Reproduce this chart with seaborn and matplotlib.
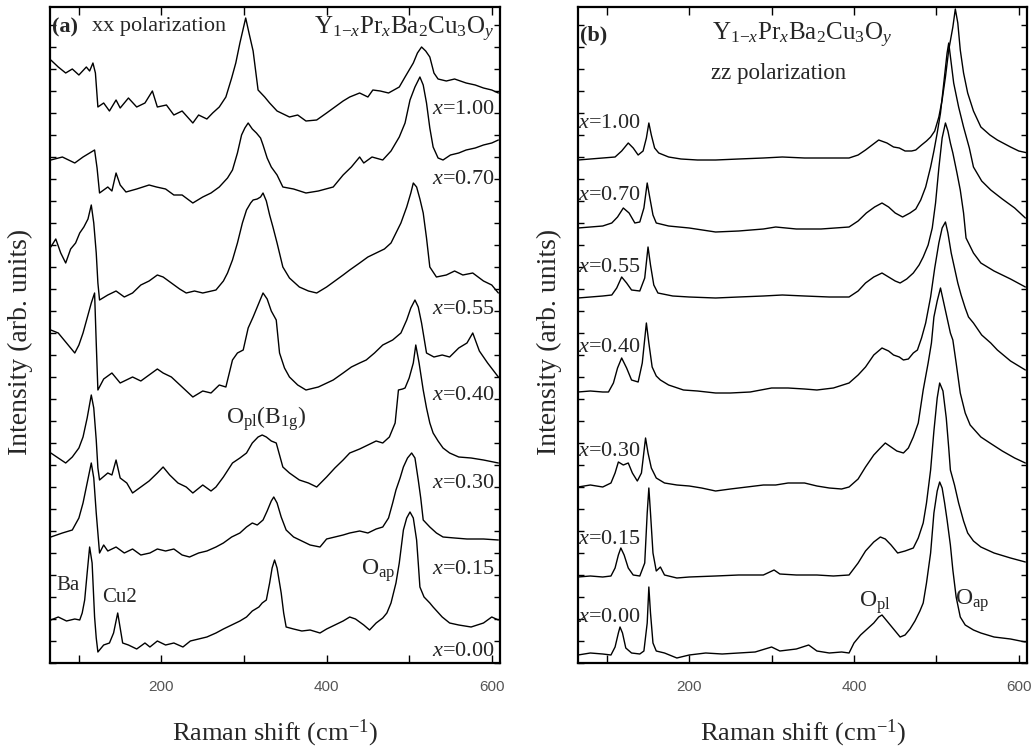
import matplotlib
matplotlib.use("Agg")
import matplotlib.pyplot as plt
from matplotlib.ticker import MultipleLocator, FixedLocator
import seaborn as sns
import pandas as pd

sns.set_style("ticks")
plt.rcParams['font.family'] = ['Liberation Serif', 'DejaVu Serif']
plt.rcParams['mathtext.fontset'] = 'custom'
plt.rcParams['mathtext.rm'] = 'Liberation Serif'
plt.rcParams['mathtext.it'] = 'Liberation Serif:italic'
plt.rcParams['mathtext.bf'] = 'Liberation Serif:bold'

# ---------------- Panel (a): xx polarization (offset spectra, arb. units) ----------------
a_x100 = [66, 75, 84, 92, 100, 109, 113, 117, 120, 123, 130, 137, 145, 150, 160, 170, 180, 189, 195, 206, 215, 225, 238, 245, 255, 262, 270, 278, 285, 290, 295, 302, 306, 311, 317, 325, 331, 340, 355, 365, 375, 388, 400, 410, 420, 428, 440, 450, 456, 465, 475, 488, 495, 505, 510, 515, 520, 525, 530, 535, 545, 555, 569, 580, 590, 600, 608]
a_y100 = [603, 596, 590, 594, 588, 596, 592, 600, 590, 556, 560, 552, 563, 555, 565, 556, 560, 572, 556, 558, 548, 552, 540, 548, 544, 550, 556, 566, 585, 600, 620, 645, 630, 612, 573, 566, 560, 552, 546, 548, 542, 543, 550, 556, 562, 566, 570, 566, 573, 572, 570, 576, 586, 600, 610, 616, 612, 606, 590, 584, 582, 584, 580, 578, 575, 573, 570]

a_x070 = [66, 80, 95, 105, 113, 119, 122, 125, 135, 140, 145, 150, 157, 170, 185, 194, 205, 215, 225, 238, 250, 260, 270, 280, 286, 292, 297, 301, 305, 310, 315, 320, 323, 328, 333, 340, 347, 360, 375, 390, 408, 420, 430, 440, 445, 455, 468, 478, 488, 495, 501, 507, 513, 517, 521, 525, 529, 535, 541, 550, 560, 569, 580, 590, 600, 608]
a_y070 = [503, 506, 500, 506, 510, 513, 495, 470, 476, 472, 490, 478, 471, 474, 478, 476, 474, 468, 468, 460, 466, 470, 476, 485, 493, 510, 528, 535, 540, 534, 530, 525, 518, 505, 496, 488, 476, 474, 470, 472, 476, 488, 496, 506, 500, 506, 503, 512, 526, 540, 563, 576, 586, 578, 560, 535, 516, 505, 503, 508, 510, 513, 515, 518, 520, 523]

a_x055 = [66, 72, 78, 84, 90, 96, 101, 106, 111, 115, 118, 121, 123, 125, 135, 145, 155, 165, 175, 185, 195, 202, 212, 222, 230, 240, 250, 266, 275, 280, 286, 292, 298, 303, 308, 311, 316, 320, 323, 327, 331, 335, 340, 347, 355, 367, 378, 388, 400, 410, 420, 428, 440, 450, 460, 470, 478, 484, 490, 497, 502, 505, 509, 513, 517, 521, 525, 533, 545, 555, 565, 577, 590, 600, 608]
a_y055 = [416, 424, 410, 400, 414, 420, 430, 436, 444, 458, 440, 410, 380, 363, 368, 372, 366, 370, 378, 382, 388, 386, 380, 374, 370, 372, 370, 373, 382, 390, 403, 420, 440, 453, 460, 463, 464, 466, 470, 462, 448, 436, 420, 396, 385, 376, 372, 370, 376, 382, 388, 393, 400, 406, 410, 414, 420, 430, 440, 456, 470, 480, 476, 464, 450, 425, 396, 386, 388, 392, 388, 390, 382, 378, 370]

a_x040 = [66, 75, 85, 95, 100, 105, 110, 115, 119, 121, 123, 130, 140, 150, 165, 175, 185, 195, 202, 212, 225, 238, 250, 260, 270, 278, 286, 292, 299, 305, 311, 317, 323, 328, 333, 339, 343, 349, 355, 365, 375, 390, 408, 420, 430, 440, 448, 458, 468, 480, 490, 497, 502, 507, 511, 515, 517, 521, 530, 540, 549, 560, 570, 577, 585, 595, 608]
a_y040 = [333, 330, 320, 310, 318, 330, 345, 360, 370, 320, 273, 284, 290, 280, 286, 282, 288, 294, 290, 286, 276, 266, 272, 270, 278, 276, 303, 310, 313, 335, 346, 358, 370, 364, 352, 343, 310, 295, 286, 278, 273, 276, 283, 290, 296, 300, 303, 310, 318, 323, 330, 343, 355, 363, 356, 340, 330, 310, 306, 308, 306, 315, 320, 330, 312, 300, 286]

a_x030 = [66, 75, 84, 92, 100, 105, 110, 115, 118, 121, 123, 125, 135, 140, 145, 150, 158, 165, 175, 185, 195, 202, 210, 220, 230, 238, 250, 260, 266, 275, 286, 295, 303, 310, 317, 322, 327, 333, 339, 343, 347, 355, 367, 378, 388, 400, 410, 420, 428, 440, 450, 460, 468, 476, 483, 487, 492, 495, 500, 505, 508, 512, 517, 521, 525, 529, 535, 541, 549, 560, 575, 590, 608]
a_y030 = [210, 205, 200, 206, 215, 226, 245, 268, 255, 223, 195, 183, 190, 188, 203, 185, 180, 170, 176, 182, 190, 196, 188, 180, 176, 170, 178, 172, 176, 186, 200, 205, 210, 220, 226, 228, 226, 222, 220, 208, 196, 190, 183, 180, 176, 186, 195, 203, 210, 214, 218, 222, 220, 226, 240, 273, 274, 275, 285, 300, 318, 300, 273, 255, 240, 230, 222, 215, 210, 206, 205, 203, 200]

a_x015 = [66, 80, 92, 100, 105, 110, 115, 118, 121, 125, 130, 135, 145, 155, 165, 175, 186, 195, 205, 215, 225, 234, 245, 255, 266, 275, 285, 295, 303, 310, 316, 323, 328, 333, 336, 340, 345, 351, 360, 370, 380, 392, 400, 410, 420, 428, 440, 450, 460, 468, 475, 480, 484, 489, 493, 498, 503, 507, 511, 514, 517, 525, 533, 541, 555, 570, 590, 608]
a_y015 = [126, 130, 133, 145, 160, 180, 200, 185, 150, 110, 118, 112, 116, 110, 114, 108, 110, 114, 112, 114, 108, 106, 110, 112, 116, 120, 126, 130, 136, 140, 138, 143, 152, 162, 166, 160, 146, 133, 126, 122, 118, 116, 124, 126, 128, 130, 132, 130, 134, 136, 145, 160, 173, 185, 196, 205, 210, 205, 183, 165, 143, 136, 130, 126, 125, 124, 124, 123]

a_x000 = [66, 75, 85, 95, 101, 104, 107, 110, 113, 116, 119, 121, 123, 130, 137, 142, 147, 150, 153, 160, 170, 180, 186, 195, 205, 215, 226, 235, 245, 255, 266, 275, 285, 295, 303, 310, 318, 322, 327, 331, 334, 337, 340, 343, 345, 348, 351, 360, 370, 380, 392, 400, 410, 420, 428, 435, 445, 452, 460, 468, 473, 478, 484, 488, 493, 497, 501, 505, 509, 511, 513, 518, 525, 529, 540, 549, 560, 575, 590, 600, 608]
a_y000 = [43, 46, 42, 44, 43, 50, 63, 90, 116, 100, 46, 25, 11, 18, 20, 30, 50, 35, 20, 18, 14, 20, 16, 22, 18, 20, 16, 22, 24, 26, 30, 34, 38, 42, 46, 52, 56, 60, 63, 80, 95, 103, 95, 80, 70, 50, 36, 34, 32, 33, 30, 34, 38, 42, 46, 44, 38, 33, 40, 45, 50, 60, 80, 100, 133, 145, 151, 145, 123, 100, 76, 66, 60, 56, 46, 40, 38, 36, 40, 46, 43]

# ---------------- Panel (b): zz polarization ----------------
b_x100 = [65, 80, 95, 110, 118, 126, 132, 138, 144, 148, 151, 154, 158, 163, 175, 190, 210, 232, 260, 290, 313, 340, 370, 394, 405, 414, 422, 430, 440, 448, 455, 462, 470, 475, 482, 488, 493, 498, 503, 507, 511, 515, 520, 523, 526, 529, 533, 538, 545, 554, 565, 574, 590, 600, 611]
b_y100 = [503, 504, 505, 506, 512, 520, 515, 508, 512, 525, 540, 528, 515, 510, 506, 504, 503, 503, 504, 505, 506, 505, 505, 505, 508, 513, 518, 523, 520, 516, 515, 512, 512, 513, 518, 522, 526, 532, 546, 563, 586, 613, 636, 654, 640, 613, 590, 570, 552, 536, 528, 523, 516, 512, 510]

b_x070 = [65, 80, 95, 106, 113, 120, 127, 134, 140, 145, 149, 152, 156, 160, 175, 200, 232, 260, 290, 305, 330, 360, 394, 405, 415, 425, 434, 442, 450, 459, 468, 475, 481, 487, 493, 497, 501, 505, 509, 513, 515, 518, 521, 527, 533, 540, 545, 555, 566, 580, 595, 608]
b_y070 = [435, 436, 437, 440, 446, 455, 450, 440, 441, 455, 480, 466, 448, 440, 437, 435, 431, 432, 434, 436, 434, 434, 436, 442, 450, 456, 460, 456, 450, 446, 450, 454, 463, 476, 496, 512, 530, 550, 580, 610, 620, 600, 580, 556, 536, 515, 496, 482, 473, 464, 455, 445]

b_x055 = [65, 80, 95, 106, 112, 118, 124, 130, 140, 146, 150, 153, 157, 162, 180, 200, 232, 260, 290, 313, 340, 370, 394, 405, 414, 424, 434, 442, 450, 456, 464, 472, 479, 484, 490, 495, 499, 503, 507, 511, 514, 517, 520, 525, 529, 533, 536, 545, 554, 570, 590, 608]
b_y055 = [365, 366, 367, 368, 375, 386, 380, 373, 372, 385, 416, 398, 378, 370, 367, 366, 365, 366, 367, 368, 367, 366, 366, 372, 380, 386, 390, 386, 382, 380, 384, 390, 398, 406, 418, 435, 460, 495, 525, 540, 532, 520, 510, 490, 473, 450, 425, 410, 400, 392, 384, 376]

b_x040 = [65, 80, 95, 102, 108, 113, 118, 124, 130, 138, 143, 148, 151, 155, 160, 165, 175, 193, 210, 232, 250, 274, 300, 320, 340, 355, 375, 394, 405, 414, 424, 434, 442, 448, 455, 460, 466, 472, 477, 482, 487, 493, 498, 503, 507, 511, 514, 518, 522, 526, 530, 535, 539, 545, 555, 566, 574, 590, 600, 608]
b_y040 = [271, 272, 271, 271, 280, 295, 305, 295, 283, 281, 300, 340, 320, 296, 287, 283, 278, 273, 272, 270, 270, 271, 275, 275, 274, 273, 275, 280, 288, 296, 308, 315, 312, 308, 306, 303, 304, 310, 313, 325, 340, 366, 395, 420, 435, 441, 430, 410, 395, 380, 368, 355, 346, 340, 328, 320, 313, 302, 297, 293]

b_x030 = [65, 80, 95, 105, 110, 114, 120, 126, 131, 137, 142, 147, 150, 154, 160, 170, 185, 200, 215, 232, 250, 270, 290, 305, 320, 340, 355, 370, 385, 394, 405, 414, 424, 432, 438, 445, 452, 460, 466, 472, 478, 484, 490, 494, 497, 501, 505, 509, 513, 517, 520, 524, 529, 535, 541, 554, 565, 580, 595, 608]
b_y030 = [176, 178, 176, 180, 190, 201, 198, 200, 190, 182, 190, 225, 210, 195, 185, 180, 178, 177, 175, 172, 174, 176, 178, 178, 180, 180, 177, 175, 174, 176, 184, 196, 208, 215, 220, 216, 212, 210, 215, 226, 240, 273, 300, 320, 346, 362, 375, 360, 345, 330, 323, 300, 270, 250, 238, 226, 220, 212, 205, 200]

b_x015 = [65, 80, 95, 105, 110, 114, 117, 121, 126, 132, 140, 146, 149, 151, 153, 156, 160, 165, 170, 185, 200, 232, 260, 290, 303, 310, 330, 355, 375, 394, 405, 414, 424, 432, 438, 445, 453, 462, 472, 478, 484, 488, 493, 497, 501, 504, 508, 512, 515, 517, 522, 527, 533, 538, 545, 554, 570, 590, 608]
b_y015 = [86, 87, 86, 87, 95, 108, 115, 108, 95, 88, 87, 100, 150, 175, 150, 110, 92, 96, 88, 85, 86, 87, 88, 88, 93, 89, 88, 88, 87, 88, 100, 112, 121, 126, 124, 118, 110, 112, 115, 125, 140, 160, 193, 232, 265, 280, 272, 245, 215, 193, 178, 160, 142, 130, 122, 116, 110, 105, 101]

b_x000 = [65, 80, 95, 105, 110, 114, 116, 119, 123, 130, 140, 145, 149, 151, 153, 156, 160, 170, 185, 200, 220, 240, 260, 280, 300, 310, 330, 345, 355, 370, 385, 394, 400, 408, 416, 424, 430, 434, 440, 446, 452, 456, 462, 468, 474, 480, 484, 488, 493, 497, 501, 504, 507, 510, 513, 517, 520, 524, 529, 535, 545, 554, 570, 590, 608]
b_y000 = [8, 10, 9, 8, 16, 30, 36, 30, 15, 10, 9, 12, 40, 76, 50, 20, 12, 10, 5, 8, 10, 9, 10, 11, 16, 12, 14, 18, 12, 10, 11, 10, 20, 28, 34, 40, 46, 48, 42, 36, 30, 26, 28, 34, 42, 52, 60, 80, 110, 150, 172, 181, 175, 160, 143, 118, 93, 66, 46, 38, 33, 30, 26, 24, 21]

labels = ["1.00", "0.70", "0.55", "0.40", "0.30", "0.15", "0.00"]
a_label_y = [553, 483, 353, 268, 180, 93, 11]
b_label_y = [540, 468, 396, 316, 211, 123, 45]

xticks_major = [200, 400, 600]
xticks_minor = [100, 300, 500]

a_series = [(a_x100, a_y100), (a_x070, a_y070), (a_x055, a_y055), (a_x040, a_y040),
            (a_x030, a_y030), (a_x015, a_y015), (a_x000, a_y000)]
b_series = [(b_x100, b_y100), (b_x070, b_y070), (b_x055, b_y055), (b_x040, b_y040),
            (b_x030, b_y030), (b_x015, b_y015), (b_x000, b_y000)]

fig = plt.figure(figsize=(10.34, 7.49), dpi=100)
axA = fig.add_axes([50 / 1034, 86 / 749, 450 / 1034, 656 / 749])
axB = fig.add_axes([578 / 1034, 86 / 749, 449 / 1034, 656 / 749])

def draw(ax, series):
    for lab, (xs, ys) in zip(labels, series):
        df = pd.DataFrame({"shift": xs, "intensity": ys})
        sns.lineplot(data=df, x="shift", y="intensity", ax=ax, color="black",
                     linewidth=1.0, estimator=None, sort=False, legend=False)
    ax.set_xlim(65, 610)
    ax.set_ylim(0, 656)
    ax.xaxis.set_major_locator(FixedLocator(xticks_major))
    ax.xaxis.set_minor_locator(FixedLocator(xticks_minor))
    ax.yaxis.set_major_locator(MultipleLocator(22))
    ax.set_yticklabels([])
    ax.tick_params(axis="both", which="both", direction="in", top=True, right=True,
                   width=1.0, color="black")
    ax.tick_params(axis="x", which="major", length=6, pad=12, labelsize=11,
                   labelcolor="#555555")
    ax.tick_params(axis="x", which="minor", length=6)
    ax.tick_params(axis="y", which="major", length=4)
    for lbl in ax.get_xticklabels():
        lbl.set_fontfamily("Liberation Sans")
    for sp in ax.spines.values():
        sp.set_linewidth(1.6)
        sp.set_color("black")
    ax.set_xlabel(r"Raman shift (cm$^{-1}$)", fontsize=19)
    ax.set_ylabel("Intensity (arb. units)", fontsize=20)
    ax.xaxis.set_label_coords(0.5, -0.084)

draw(axA, a_series)
draw(axB, b_series)
axA.yaxis.set_label_coords(-0.038, 0.49)
axB.yaxis.set_label_coords(-0.036, 0.49)

formula = r"Y$_{1\mathrm{-}x}$Pr$_{x}$Ba$_{2}$Cu$_{3}$O$_{y}$"

# panel (a) texts
axA.text(68, 636, "(a)", fontsize=16, fontweight="bold", va="center", ha="left")
axA.text(116, 636, "xx polarization", fontsize=16, va="center", ha="left")
axA.text(385, 634, formula, fontsize=18, va="center", ha="left")
for lab, yy in zip(labels, a_label_y):
    axA.text(528, yy, r"$x$=" + lab, fontsize=16, va="center", ha="left", clip_on=True)
axA.text(73, 78, "Ba", fontsize=15, va="center", ha="left")
axA.text(128, 65, "Cu2", fontsize=15, va="center", ha="left")
axA.text(278, 244, r"O$_{\mathrm{pl}}$(B$_{\mathrm{1g}}$)", fontsize=17, va="center", ha="left")
axA.text(442, 92, r"O$_{\mathrm{ap}}$", fontsize=17, va="center", ha="left")

# panel (b) texts
axB.text(67, 628, "(b)", fontsize=16, fontweight="bold", va="center", ha="left")
axB.text(228, 628, formula, fontsize=18, va="center", ha="left")
axB.text(226, 590, "zz polarization", fontsize=16.5, va="center", ha="left")
for lab, yy in zip(labels, b_label_y):
    axB.text(65.5, yy, r"$x$=" + lab, fontsize=16, va="center", ha="left", clip_on=True)
axB.text(406, 60, r"O$_{\mathrm{pl}}$", fontsize=17, va="center", ha="left")
axB.text(522, 62, r"O$_{\mathrm{ap}}$", fontsize=17, va="center", ha="left")

fig.savefig("out.png", dpi=100)
